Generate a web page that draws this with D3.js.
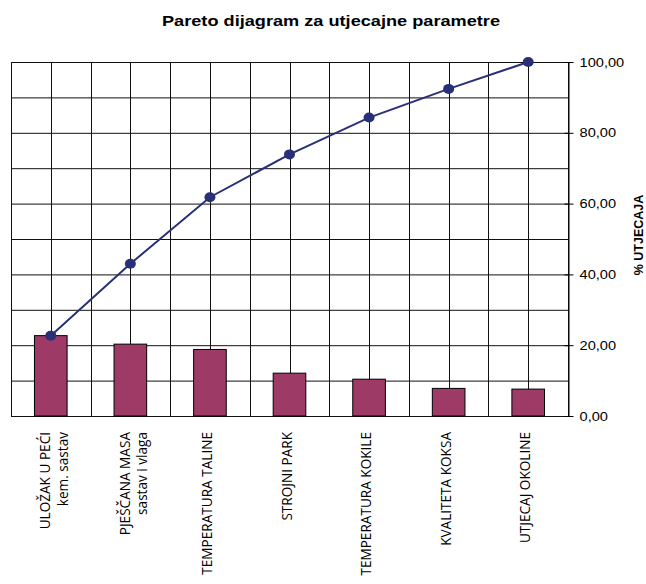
<!DOCTYPE html>
<html>
<head>
<meta charset="utf-8">
<script src="https://cdn.jsdelivr.net/npm/d3@7"></script>
<style>
  html, body { margin: 0; padding: 0; background: #fff; }
  svg { display: block; }
</style>
</head>
<body>
<svg id="chart" width="646" height="584"></svg>
<script>
// ---- data ----
const categories = [
  ["ULOŽAK U PEĆI", "kem. sastav"],
  ["PJEŠČANA MASA", "sastav i vlaga"],
  ["TEMPERATURA TALINE"],
  ["STROJNI PARK"],
  ["TEMPERATURA KOKILE"],
  ["KVALITETA KOKSA"],
  ["UTJECAJ OKOLINE"]
];
const shares = [22.7, 20.3, 18.8, 12.1, 10.4, 7.8, 7.6];
const cumulative = [22.7, 43.0, 61.8, 73.9, 84.3, 92.4, 100.0];
const yTicks = [0, 20, 40, 60, 80, 100];
const yGrid = [0, 10, 20, 30, 40, 50, 60, 70, 80, 90, 100];
const titleText = "Pareto dijagram za utjecajne parametre";
const yTitle = "% UTJECAJA";

(function () {
// ---- layout ----
const svg = d3.select("#chart");
const pLeft = 11, pRight = 568, pTop = 62, pBottom = 416;

const x = d3.scaleBand().domain(d3.range(categories.length)).range([pLeft, pRight]).paddingInner(0).paddingOuter(0);
const y = d3.scaleLinear().domain([0, 100]).range([pBottom, pTop]);
const fmt = v => d3.format(".2f")(v).replace(".", ",");

// grid: horizontal
svg.append("g").selectAll("line").data(yGrid).join("line")
  .attr("x1", pLeft).attr("x2", pRight)
  .attr("y1", d => y(d) + 0.5).attr("y2", d => y(d) + 0.5)
  .attr("stroke", "#111").attr("stroke-width", 1);

// grid: vertical at boundaries and centers
const vx = [];
d3.range(categories.length).forEach(i => { vx.push(x(i)); vx.push(x(i) + x.bandwidth() / 2); });
vx.push(pRight);
svg.append("g").selectAll("line").data(vx).join("line")
  .attr("x1", d => Math.round(d) + 0.5).attr("x2", d => Math.round(d) + 0.5)
  .attr("y1", pTop).attr("y2", pBottom)
  .attr("stroke", "#111").attr("stroke-width", 1);

// bars
const bw = x.bandwidth() * 0.41;
svg.append("g").selectAll("rect").data(shares).join("rect")
  .attr("x", (d, i) => x(i) + x.bandwidth() / 2 - bw / 2)
  .attr("y", d => y(d))
  .attr("width", bw)
  .attr("height", d => pBottom - y(d))
  .attr("fill", "#9e3a66")
  .attr("stroke", "#000").attr("stroke-width", 1);

// right axis
const axis = d3.axisRight(y).tickValues(yTicks).tickFormat(fmt).tickSizeInner(5).tickSizeOuter(0).tickPadding(6);
const ag = svg.append("g").attr("transform", `translate(${pRight + 0.5},0)`).call(axis);
ag.select(".domain").attr("stroke", "#000");
ag.selectAll(".tick line").attr("stroke", "#000").attr("x1", -4).attr("x2", 5);
ag.selectAll(".tick text")
  .attr("x", 0)
  .attr("transform", "translate(11,0) scale(1.17,1)")
  .attr("font-family", "Liberation Sans, Arial, sans-serif").attr("font-size", 12.5).attr("fill", "#000");

// cumulative line
const cx = i => x(i) + x.bandwidth() / 2;
svg.append("path").datum(cumulative)
  .attr("fill", "none").attr("stroke", "#283078").attr("stroke-width", 2)
  .attr("d", d3.line().x((d, i) => cx(i)).y(d => y(d)));
svg.append("g").selectAll("ellipse").data(cumulative).join("ellipse")
  .attr("cx", (d, i) => cx(i)).attr("cy", d => y(d))
  .attr("rx", 5.5).attr("ry", 5)
  .attr("fill", "#283078");

// category labels (rotated)
const lg = svg.append("g");
categories.forEach((lines, i) => {
  const n = lines.length;
  lines.forEach((t, j) => {
    const lx = cx(i) + 2 + (j - (n - 1) / 2) * 17.5 + (n - 1) * 6;
    lg.append("text")
      .attr("transform", `translate(${lx},432) rotate(-90)`)
      .attr("text-anchor", "end")
      .attr("font-family", "Open Sans, sans-serif")
      .attr("font-size", 13.6)
      .attr("fill", "#000")
      .text(t);
  });
});

// title
svg.append("text")
  .attr("x", 331).attr("y", 26)
  .attr("text-anchor", "middle")
  .attr("font-family", "Liberation Sans, Arial, sans-serif")
  .attr("font-weight", "bold").attr("font-size", 15)
  .attr("textLength", 338).attr("lengthAdjust", "spacingAndGlyphs")
  .text(titleText);

// y title
svg.append("text")
  .attr("transform", "translate(643,235) rotate(-90)")
  .attr("text-anchor", "middle")
  .attr("font-family", "Liberation Sans, Arial, sans-serif")
  .attr("font-weight", "bold").attr("font-size", 12.5)
  .text(yTitle);
})();
</script>
</body>
</html>
